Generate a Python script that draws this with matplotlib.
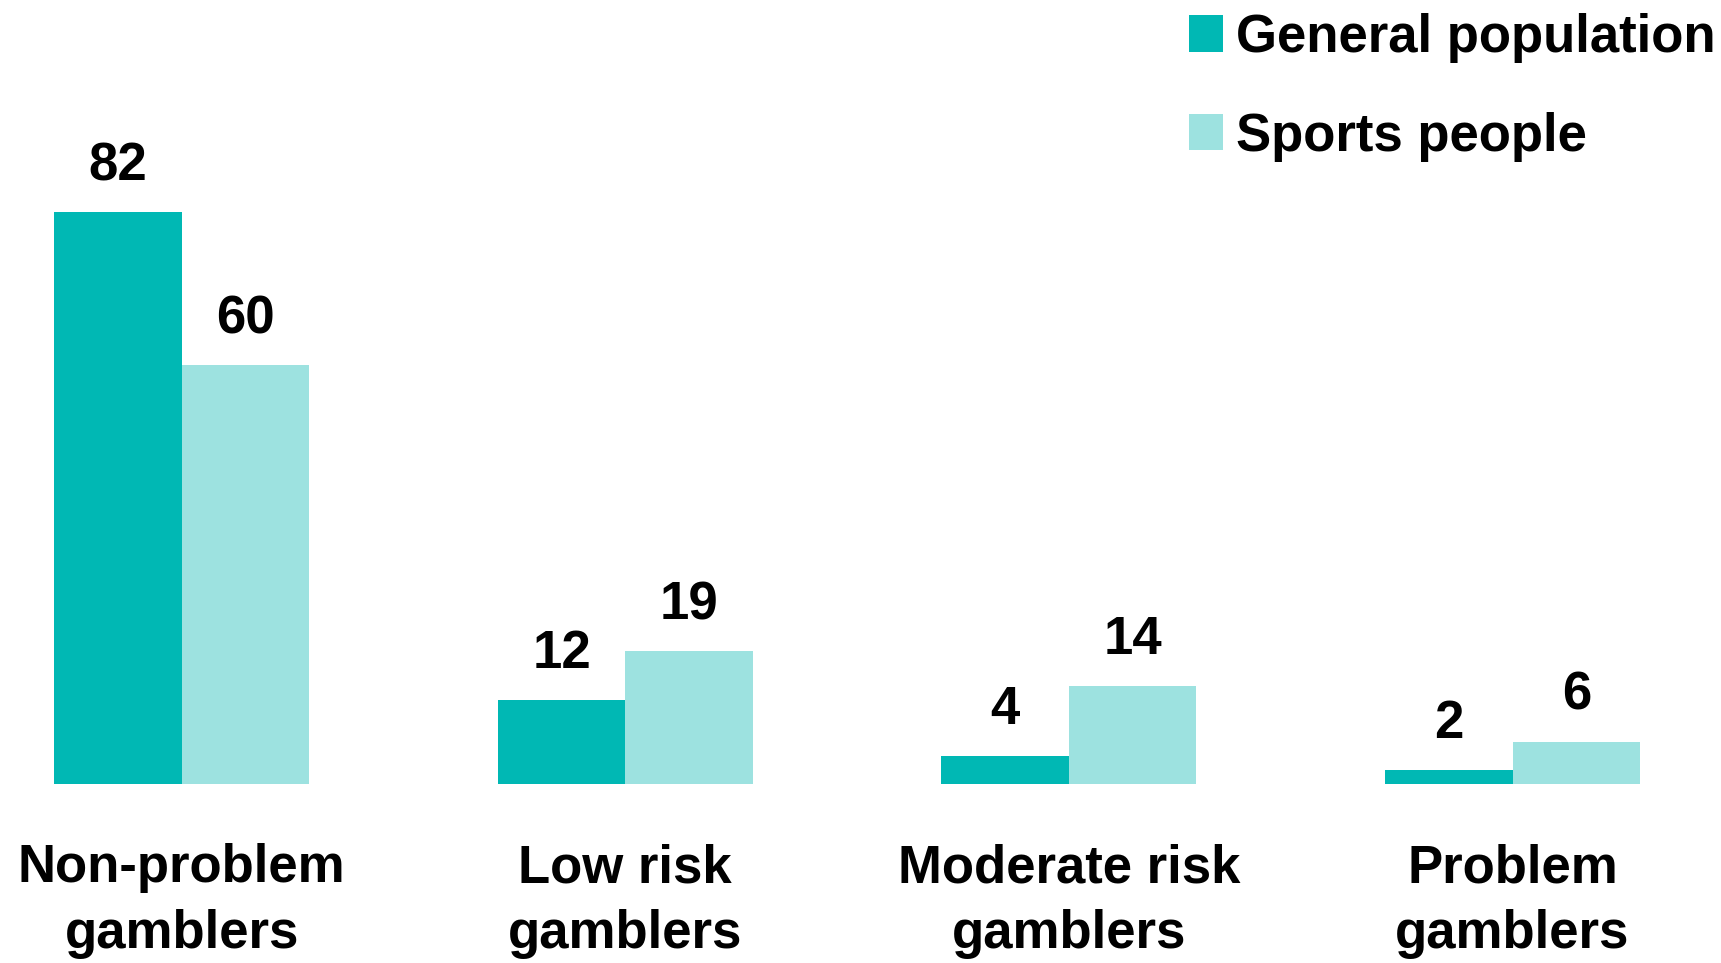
import matplotlib.pyplot as plt
import numpy as np
from matplotlib.patches import Patch

plt.rcParams['font.family'] = ['Liberation Sans', 'DejaVu Sans']
plt.rcParams['font.weight'] = 'bold'

categories = ['Non-problem\ngamblers', 'Low risk\ngamblers',
              'Moderate risk\ngamblers', 'Problem\ngamblers']
general = [82, 12, 4, 2]
sports = [60, 19, 14, 6]
series_names = ['General population', 'Sports people']
colours = ['#00B8B4', '#9DE2E0']

fig = plt.figure(figsize=(17.21, 9.63), dpi=100)
ax = fig.add_axes([0, 0.1862, 1, 0.8138])

x = np.arange(len(categories))
w = 0.2875
b1 = ax.bar(x - w / 2, general, w, color=colours[0], linewidth=0)
b2 = ax.bar(x + w / 2, sports, w, color=colours[1], linewidth=0)

# value labels above each bar
for bars in (b1, b2):
    for r in bars:
        ax.annotate(str(int(r.get_height())),
                    (r.get_x() + r.get_width() / 2, r.get_height()),
                    xytext=(0, 23), textcoords='offset points',
                    ha='center', va='baseline', fontsize=38, fontweight='bold')

ax.set_xlim(-0.4096, 3.470)
ax.set_ylim(0, 112.4)
ax.set_xticks(x)
ax.set_xticklabels(categories, fontsize=38, fontweight='bold', linespacing=1.4)
ax.tick_params(axis='x', length=0, pad=43)
ax.set_yticks([])
for s in ax.spines.values():
    s.set_visible(False)

handles = [Patch(color=c, linewidth=0) for c in colours]
fig.legend(handles, series_names, loc='upper left',
           bbox_to_anchor=(1189 / 1721, 1 - 13 / 963), frameon=False,
           borderpad=0, borderaxespad=0,
           handlelength=0.64, handleheight=0.68, handletextpad=0.26,
           labelspacing=0.92, prop={'weight': 'bold', 'size': 38})

fig.savefig('out.png', dpi=100)
